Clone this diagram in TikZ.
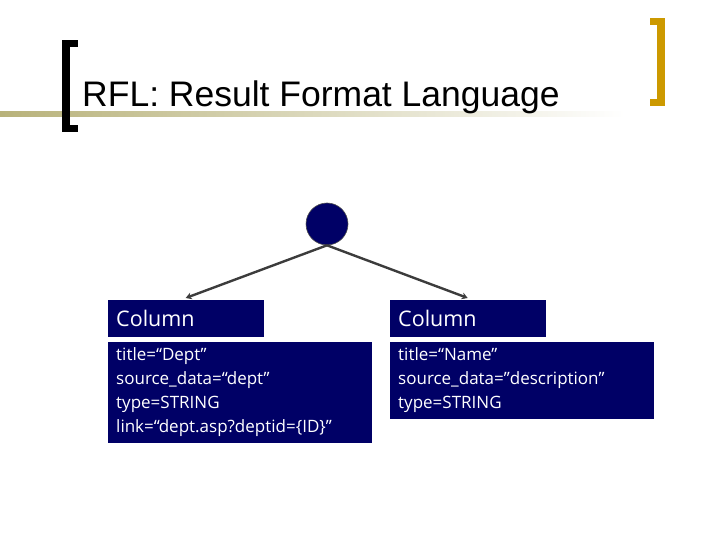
\documentclass[tikz,border=0pt]{standalone}
\usepackage{fontspec}
\setmainfont{Liberation Sans}
\newfontfamily\boxfont{Open Sans}
\usepackage{xcolor}
\usetikzlibrary{positioning,arrows.meta}
\definecolor{navyfill}{RGB}{0,0,102}
\definecolor{bracketgold}{RGB}{204,153,0}
\definecolor{lineolive}{RGB}{184,178,122}
\definecolor{arrowgray}{RGB}{60,60,60}
\tikzset{
  headbox/.style={fill=navyfill, draw=navyfill, text=white, anchor=north west,
    minimum width=155pt, minimum height=36pt, inner sep=0pt, inner xsep=8pt,
    text width=139pt, align=left, font=\boxfont\fontsize{21.5}{24}\selectfont},
  infobox/.style={fill=navyfill, draw=navyfill, text=white, anchor=north west,
    minimum width=263pt, inner sep=0pt, inner xsep=8pt,
    text width=247pt, align=left, font=\boxfont\fontsize{17}{24}\selectfont},
  treelink/.style={draw=arrowgray, line width=2.4pt, -{Stealth[length=6pt,width=7pt]}}
}
\begin{document}
\begin{tikzpicture}[x=1pt, y=-1pt]
  \useasboundingbox (0,0) rectangle (720,540);
  % title bar
  \shade[left color=lineolive, right color=white] (0,112) rectangle (625,117);
  \fill[black] (62,40) rectangle (70,132);
  \fill[black] (62,40) rectangle (78,47);
  \fill[black] (62,125) rectangle (78,132);
  \fill[bracketgold] (657,18) rectangle (665,106);
  \fill[bracketgold] (650,18) rectangle (665,25);
  \fill[bracketgold] (650,99) rectangle (665,106);
  \node[anchor=base west, font=\fontsize{35.5}{40}\selectfont, inner sep=0pt] (title) at (82,107) {RFL: Result Format Language};
  % tree
  \node[circle, fill=navyfill, draw=black!70, line width=0.6pt, minimum size=42pt, inner sep=0pt] (root) at (327,224) {};
  \node[headbox] (colA) at (108,300) {Column};
  \node[headbox] (colB) at (390,300) {Column};
  \node[infobox, minimum height=100pt] (infoA) at (108,342)
    {title=“Dept”\\source\_data=“dept”\\type=STRING\\link=“dept.asp?deptid=\{ID\}”};
  \node[infobox, minimum height=76pt] (infoB) at (390,342)
    {title=“Name”\\source\_data=”description”\\type=STRING};
  \foreach \c in {colA,colB} { \draw[treelink] (root.south) -- ([yshift=2pt]\c.north); }
\end{tikzpicture}
\end{document}
